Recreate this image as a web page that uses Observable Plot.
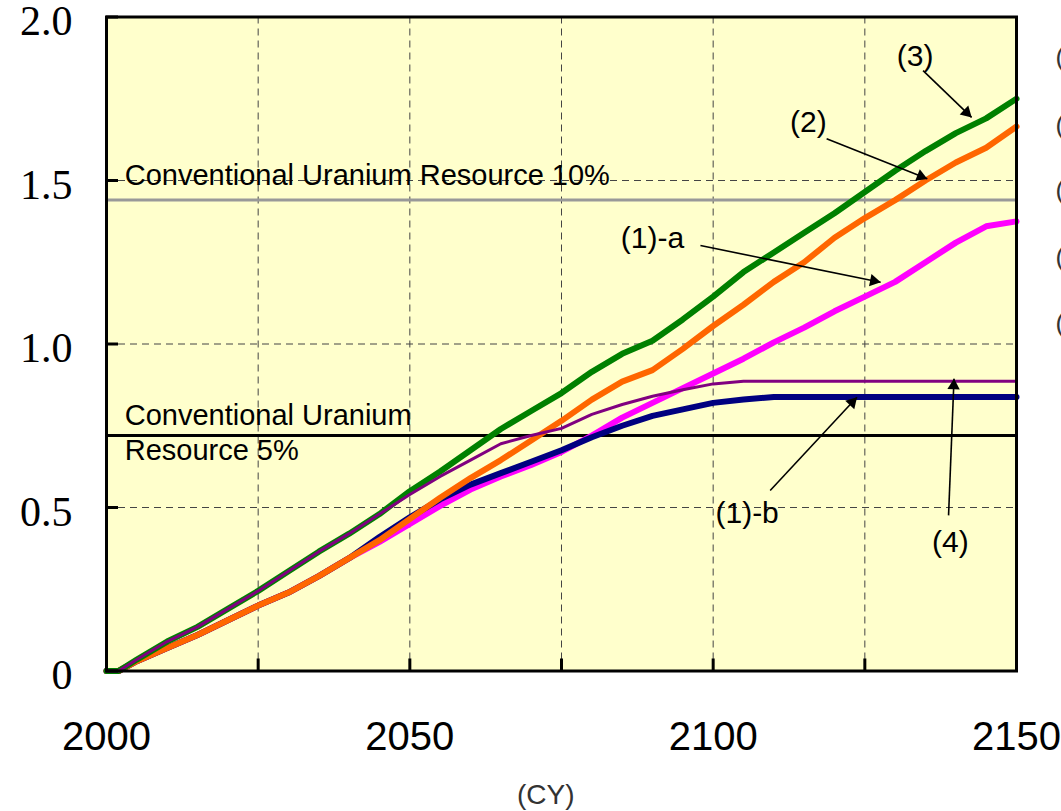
<!DOCTYPE html>
<html><head><meta charset="utf-8">
<script src="https://cdn.jsdelivr.net/npm/d3@7"></script>
<script src="https://cdn.jsdelivr.net/npm/@observablehq/plot@0.6"></script>
<style>html,body{margin:0;padding:0;background:#fff;overflow:hidden}</style>
</head><body><div id="chart"></div>
<script>
// ---- data ----
const years = [2000,2002,2005,2010,2015,2020,2025,2030,2035,2040,2045,2050,2055,2060,2065,2070,2075,2080,2085,2090,2095,2100,2105,2110,2115,2120,2125,2130,2135,2140,2145,2150];
const case3  = [0,0,0.035,0.09,0.135,0.19,0.245,0.305,0.365,0.42, 0.48,0.55,0.61,0.675,0.74,0.795,0.85,0.915,0.97,1.01, 1.075,1.145,1.22,1.28,1.34,1.40,1.465,1.53,1.59,1.645, 1.69,1.75];
const case2  = [0,0,0.03,0.07,0.11,0.155,0.2,0.24,0.29,0.345, 0.40,0.465,0.53,0.59,0.645,0.705,0.765,0.83,0.885,0.92, 0.985,1.055,1.12,1.19,1.25,1.325,1.385,1.44,1.50,1.555, 1.60,1.665];
const case1a = [0,0,0.03,0.07,0.11,0.155,0.2,0.24,0.29,0.345, 0.395,0.45,0.505,0.555,0.595,0.63,0.67,0.72,0.775,0.82, 0.865,0.91,0.955,1.005,1.05,1.10,1.145,1.19,1.25,1.31, 1.36,1.375];
const case1b = [0,0,0.03,0.07,0.11,0.155,0.2,0.24,0.29,0.345, 0.41,0.47,0.525,0.57,0.605,0.64,0.675,0.715,0.75,0.78, 0.80,0.82,0.83,0.838,0.838,0.838,0.838,0.838,0.838,0.838, 0.838,0.838];
const case4  = [0,0,0.035,0.09,0.135,0.19,0.245,0.305,0.365,0.42, 0.48,0.54,0.595,0.645,0.695,0.72,0.742,0.785,0.815,0.84, 0.86,0.878,0.886,0.886,0.886,0.886,0.886,0.886,0.886,0.886, 0.886,0.886];

const resourceLevels = [0.72, 1.44];
const xGridTicks = [2025,2050,2075,2100,2125];
const xLabelTicks = [2000,2050,2100,2150];
const yGridTicks = [0.5,1.0,1.5];
const yTicks = [0,0.5,1.0,1.5,2.0];
const yTickLabels = ["0","0.5","1.0","1.5","2.0"];

const labelText = ["(3)","(2)","(1)-a","(1)-b","(4)"];
const labelX = [2133.3, 2115.7, 2090.0, 2105.6, 2139.1];
const labelY = [1.879, 1.677, 1.322, 0.481, 0.394];
const arrowX1 = [2134.6, 2118.7, 2097.9, 2109.4, 2138.8];
const arrowY1 = [1.836, 1.628, 1.301, 0.552, 0.476];
const arrowX2 = [2142.6, 2135.3, 2127.6, 2123.7, 2139.7];
const arrowY2 = [1.693, 1.505, 1.189, 0.837, 0.894];

const legendText = ["(1)-a","(1)-b","(2)","(3)","(4)"];
const legendY = [1.876, 1.668, 1.469, 1.263, 1.063];

const resourceText = ["Conventional Uranium Resource 10%", "Conventional Uranium", "Resource 5%"];
const resourceTextX = [2003.0, 2003.0, 2003.0];
const resourceTextY = [1.515, 0.781, 0.674];

// ---- layout ----
const W = 1061, H = 811, mL = 106, mR = 45, mT = 16.5, mB = 140.5;
const xs = d3.scaleLinear([2000, 2150], [mL, W - mR]);
const ys = d3.scaleLinear([0, 2], [H - mB, mT]);

const rows = vals => years.map((y, i) => ({year: y, value: vals[i]}));

const arrows = arrowX1.map((x1, i) => {
  const px1 = xs(x1), py1 = ys(arrowY1[i]);
  const px2 = xs(arrowX2[i]), py2 = ys(arrowY2[i]);
  const dx = px2 - px1, dy = py2 - py1, len = Math.hypot(dx, dy);
  const back = 7;
  return {
    x1, y1: arrowY1[i], x2: arrowX2[i], y2: arrowY2[i],
    hx: xs.invert(px2 - dx / len * back),
    hy: ys.invert(py2 - dy / len * back),
    angle: Math.atan2(dx, -dy) * 180 / Math.PI
  };
});

const sans = "Liberation Sans, Arial, sans-serif";

const chart = Plot.plot({
  width: W, height: H,
  marginLeft: mL, marginRight: mR, marginTop: mT, marginBottom: mB,
  style: {background: "white", overflow: "hidden"},
  x: {domain: [2000, 2150]},
  y: {domain: [0, 2]},
  marks: [
    Plot.frame({fill: "#FFFFCC"}),
    Plot.gridX(xGridTicks, {stroke: "#444", strokeOpacity: 1, strokeWidth: 1, strokeDasharray: "7,5"}),
    Plot.gridY(yGridTicks, {stroke: "#444", strokeOpacity: 1, strokeWidth: 1, strokeDasharray: "7,5"}),
    Plot.ruleY([resourceLevels[1]], {stroke: "#999999", strokeWidth: 3}),
    Plot.ruleY([resourceLevels[0]], {stroke: "black", strokeWidth: 3}),
    Plot.text(resourceText, {x: (d, i) => resourceTextX[i], y: (d, i) => resourceTextY[i], text: d => d,
      textAnchor: "start", fontSize: 29, fontFamily: sans, fill: "black"}),
    Plot.line(rows(case1a), {x: "year", y: "value", stroke: "#FF00FF", strokeWidth: 6, strokeLinejoin: "round"}),
    Plot.line(rows(case1b), {x: "year", y: "value", stroke: "#000080", strokeWidth: 6, strokeLinejoin: "round"}),
    Plot.line(rows(case2), {x: "year", y: "value", stroke: "#FF6600", strokeWidth: 6, strokeLinejoin: "round"}),
    Plot.line(rows(case3), {x: "year", y: "value", stroke: "#008000", strokeWidth: 6, strokeLinejoin: "round"}),
    Plot.line(rows(case4), {x: "year", y: "value", stroke: "#800080", strokeWidth: 3, strokeLinejoin: "round"}),
    Plot.link(arrows, {x1: "x1", y1: "y1", x2: "x2", y2: "y2", stroke: "black", strokeWidth: 1.6}),
    Plot.dot(arrows, {x: "hx", y: "hy", rotate: "angle", symbol: "triangle", r: 4.6, fill: "black", stroke: "none"}),
    Plot.text(labelText, {x: (d, i) => labelX[i], y: (d, i) => labelY[i], text: d => d,
      fontSize: 30, fontFamily: sans, fill: "black"}),
    Plot.axisX({ticks: xGridTicks, tickSize: 12, dy: -12, tickFormat: () => "", strokeWidth: 3, stroke: "black", label: null}),
    Plot.axisY({ticks: yTicks, tickSize: 12, dx: 12, tickFormat: () => "", strokeWidth: 3, stroke: "black", label: null}),
    Plot.frame({stroke: "black", strokeWidth: 3}),
    Plot.text(yTicks, {y: d => d, text: (d, i) => yTickLabels[i], frameAnchor: "left", dx: -34, dy: 5,
      textAnchor: "end", lineAnchor: "middle",
      fontSize: 42, fontFamily: "Liberation Serif, Times New Roman, serif", fill: "black", clip: false}),
    Plot.text(xLabelTicks, {x: d => d, text: d => String(d), frameAnchor: "bottom", dy: 66, lineAnchor: "middle",
      fontSize: 40, fontFamily: sans, fill: "black"}),
    Plot.text(["(CY)"], {x: [2072.4], text: d => d, frameAnchor: "bottom", dy: 124.5, lineAnchor: "middle",
      fontSize: 28, fontFamily: sans, fill: "#333"}),
    Plot.text(legendText, {y: (d, i) => legendY[i], text: d => d, frameAnchor: "right", dx: 39, textAnchor: "start",
      lineAnchor: "middle", fontSize: 26, fontFamily: sans, fill: "#333"})
  ]
});
document.getElementById("chart").appendChild(chart);
</script>
</body></html>
